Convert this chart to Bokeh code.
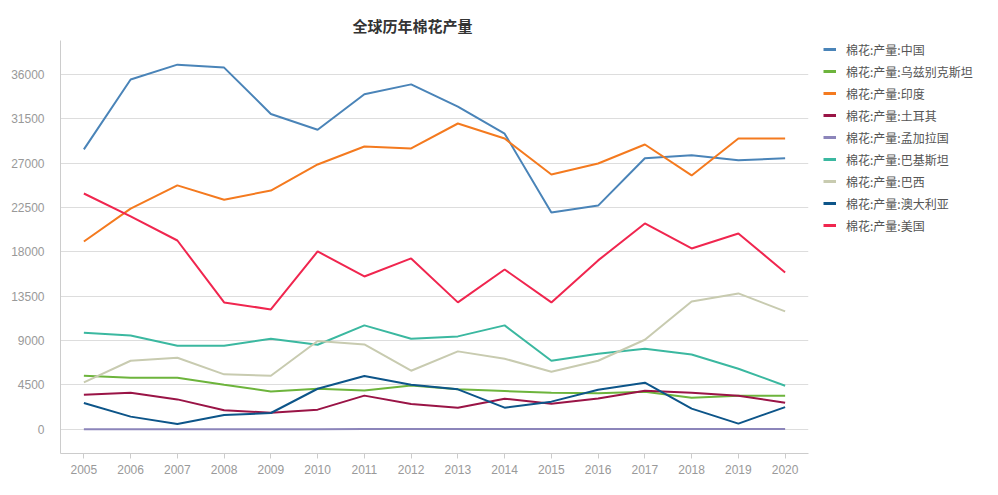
from bokeh.plotting import figure
from bokeh.layouts import row
from bokeh.models import FixedTicker, Legend, LegendItem, Range1d, Title
from bokeh.embed import file_html
from bokeh.resources import INLINE

years = list(range(2005, 2021))

china = [28400, 35500, 37000, 36700, 32000, 30400, 34000, 35000, 32750, 30000, 22000, 22700, 27500, 27800, 27300, 27500]
uzbekistan = [5440, 5240, 5240, 4530, 3850, 4120, 3950, 4460, 4060, 3890, 3720, 3650, 3820, 3210, 3420, 3420]
india = [19060, 22400, 24750, 23300, 24230, 26870, 28700, 28500, 31030, 29500, 25860, 26970, 28900, 25760, 29500, 29500]
turkey = [3520, 3720, 3040, 1930, 1690, 2000, 3420, 2570, 2200, 3110, 2600, 3140, 3920, 3720, 3420, 2700]
bangladesh = [7, 7, 7, 7, 7, 7, 28, 30, 30, 30, 30, 30, 30, 30, 30, 30]
pakistan = [9800, 9530, 8490, 8490, 9190, 8580, 10550, 9190, 9430, 10550, 6960, 7670, 8180, 7600, 6150, 4430]
brazil = [4770, 6960, 7270, 5580, 5440, 8960, 8620, 5950, 7910, 7170, 5850, 6960, 9090, 12980, 13790, 11970]
australia = [2670, 1290, 540, 1450, 1660, 4120, 5410, 4530, 4060, 2200, 2810, 4020, 4730, 2100, 580, 2260]
usa = [23930, 21600, 19160, 12880, 12170, 18050, 15510, 17340, 12880, 16220, 12880, 17140, 20890, 18350, 19870, 15920]

series_names = ["棉花:产量:中国", "棉花:产量:乌兹别克斯坦", "棉花:产量:印度", "棉花:产量:土耳其",
                "棉花:产量:孟加拉国", "棉花:产量:巴基斯坦", "棉花:产量:巴西", "棉花:产量:澳大利亚", "棉花:产量:美国"]
series_values = [china, uzbekistan, india, turkey, bangladesh, pakistan, brazil, australia, usa]
colors = ["#4A84B8", "#6DB43C", "#F47A1F", "#9A1446", "#8C85BA", "#3BB8A0", "#C8CBB0", "#0D5589", "#F0264F"]

y_ticks = [0, 4500, 9000, 13500, 18000, 22500, 27000, 31500, 36000]

FONT = "Noto Sans CJK SC"

p = figure(width=818, height=490, output_backend="svg", toolbar_location=None,
           x_range=Range1d(2004.5, 2020.5), y_range=Range1d(-2450, 39450),
           min_border_left=60, min_border_right=10, min_border_top=40, min_border_bottom=37)
p.outline_line_color = None
p.title = Title(text="全球历年棉花产量", align="left", offset=292, standoff=10,
                text_font=FONT, text_font_size="15px", text_color="#333333", text_font_style="bold")

# legend panel (separate figure to the right of the chart)
lg = figure(width=172, height=490, output_backend="svg", toolbar_location=None, title=None,
            x_axis_location=None, y_axis_location=None,
            x_range=Range1d(0, 1), y_range=Range1d(0, 1),
            min_border_left=5, min_border_right=0, min_border_top=13, min_border_bottom=0)
lg.outline_line_color = None
lg.xgrid.grid_line_color = None
lg.ygrid.grid_line_color = None

items = []
for name, vals, c in zip(series_names, series_values, colors):
    p.line(years, vals, line_color=c, line_width=2)
    r = lg.line([5, 6], [5, 6], line_color=c, line_width=3)
    items.append(LegendItem(label=name, renderers=[r]))

legend = Legend(items=items, location="top_left", border_line_color=None,
                background_fill_alpha=0, label_text_font=FONT, label_text_font_size="12px",
                label_text_color="#555555", spacing=4, label_height=18, glyph_height=18,
                glyph_width=13, label_standoff=10, padding=5, margin=0)
lg.add_layout(legend)

p.yaxis.ticker = FixedTicker(ticks=y_ticks)
p.xaxis.ticker = FixedTicker(ticks=years)
p.xgrid.grid_line_color = None
p.ygrid.grid_line_color = "#DDDDDD"
p.ygrid.grid_line_width = 1

for ax in (p.xaxis, p.yaxis):
    ax.axis_line_color = "#CCCCCC"
    ax.major_tick_line_color = "#CCCCCC"
    ax.minor_tick_line_color = None
    ax.major_label_text_color = "#999999"
    ax.major_label_text_font = "Liberation Sans"
    ax.major_label_text_font_size = "12px"
p.yaxis.major_tick_line_color = None
p.xaxis.major_tick_in = 0
p.xaxis.major_tick_out = 5
p.xaxis.major_label_standoff = 6
p.yaxis.major_label_standoff = 10

layout = row(p, lg, spacing=0)
open("out.html", "w").write(file_html(layout, INLINE))
